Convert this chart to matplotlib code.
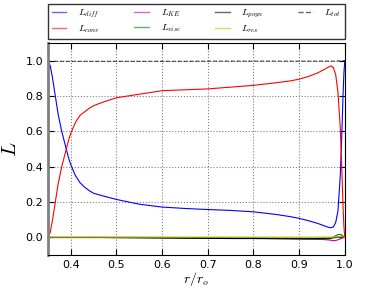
import matplotlib.pyplot as plt
import numpy as np

plt.rcParams['mathtext.fontset'] = 'cm'

r = [0.35, 0.355, 0.36, 0.366, 0.372, 0.38, 0.385, 0.39, 0.395, 0.40, 0.41, 0.42, 0.43, 0.44, 0.45, 0.47, 0.50,
     0.55, 0.60, 0.65, 0.70, 0.75, 0.80, 0.85, 0.88, 0.90, 0.92, 0.94, 0.955, 0.965, 0.97, 0.975,
     0.98, 0.985, 0.99, 0.993, 0.996, 0.998, 1.0]
L_diff = [1.0, 0.97, 0.9, 0.8, 0.7, 0.6, 0.55, 0.5, 0.45, 0.41, 0.35, 0.31, 0.285, 0.265, 0.25, 0.235, 0.215,
          0.188, 0.172, 0.164, 0.158, 0.153, 0.145, 0.13, 0.118, 0.108, 0.095, 0.08, 0.066, 0.057, 0.055, 0.06,
          0.085, 0.15, 0.35, 0.55, 0.8, 0.93, 1.0]
L_conv = [0.0, 0.03, 0.1, 0.2, 0.3, 0.4, 0.45, 0.5, 0.55, 0.59, 0.65, 0.69, 0.71, 0.73, 0.745, 0.765, 0.79,
          0.81, 0.83, 0.835, 0.84, 0.85, 0.86, 0.875, 0.885, 0.895, 0.91, 0.93, 0.95, 0.965, 0.97, 0.96,
          0.92, 0.82, 0.62, 0.42, 0.18, 0.06, 0.0]
L_KE = [0.0] * 17 + [0.0, -0.001, -0.002, -0.003, -0.004, -0.005, -0.006, -0.007, -0.008, -0.009, -0.01, -0.012,
                     -0.014, -0.016, -0.018, -0.017, -0.013, -0.008, -0.005, -0.002, -0.001, 0.0]
L_visc = [0.0] * 17 + [0.0, 0.0, -0.001, -0.002, -0.003, -0.004, -0.005, -0.006, -0.007, -0.008, -0.009, -0.01,
                       -0.008, -0.004, 0.002, 0.01, 0.016, 0.017, 0.014, 0.008, 0.004, 0.0]
L_poyn = [0.0] * 16 + [-0.001, -0.002, -0.003, -0.004, -0.005, -0.006, -0.006, -0.007, -0.007, -0.007, -0.007,
                       -0.006, -0.005, -0.004, -0.003, -0.002, 0.0, 0.002, 0.004, 0.004, 0.003, 0.002, 0.0]
L_res = [0.002] * 31 + [0.002, 0.003, 0.004, 0.005, 0.004, 0.003, 0.002, 0.0]
L_tot = [0.995] * 3 + [0.996] * 17 + [0.997] * 13 + [0.998, 0.998, 0.999, 1.0, 1.0, 1.0]

fig = plt.figure(figsize=(3.84, 2.88), dpi=100)
ax = fig.add_axes([0.125, 0.114, 0.773, 0.737])

ax.plot(r, L_diff, color='b', lw=0.8, label=r'$L_{diff}$')
ax.plot(r, L_conv, color='r', lw=0.8, label=r'$L_{conv}$')
ax.plot(r, L_KE, color='m', lw=0.8, label=r'$L_{KE}$')
ax.plot(r, L_visc, color='g', lw=0.8, label=r'$L_{visc}$')
ax.plot(r, L_poyn, color='k', lw=0.8, label=r'$L_{poyn}$')
ax.plot(r, L_res, color='y', lw=0.8, label=r'$L_{res}$')
ax.plot(r, L_tot, color='k', lw=0.8, ls='--', alpha=0.7, label=r'$L_{tot}$')

ax.set_xlim(0.35, 1.0)
ax.set_ylim(-0.1, 1.1)
ax.set_xticks([0.4, 0.5, 0.6, 0.7, 0.8, 0.9, 1.0])
ax.set_yticks([0.0, 0.2, 0.4, 0.6, 0.8, 1.0])
ax.tick_params(direction='in', labelsize=8, length=4, top=True, right=True)
ax.grid(True, ls=':', color='gray', lw=0.8)
ax.spines['left'].set_color('gray')
ax.spines['left'].set_linewidth(2)
ax.set_xlabel(r'$r/r_o$', fontsize=10, labelpad=0)
ax.set_ylabel(r'$L$', fontsize=15)

leg = ax.legend(ncol=4, loc='lower left', bbox_to_anchor=(0.0, 1.02, 1.0, 0.1), fontsize=7,
                mode='expand', borderaxespad=0.0, fancybox=False, edgecolor='k',
                handlelength=1.5, handletextpad=1.2, labelspacing=0.3, borderpad=0.4)
leg.get_frame().set_linewidth(1.0)
for line in leg.get_lines():
    line.set_alpha(0.6)
    line.set_linewidth(1.0)

fig.savefig('out.png', dpi=100)
